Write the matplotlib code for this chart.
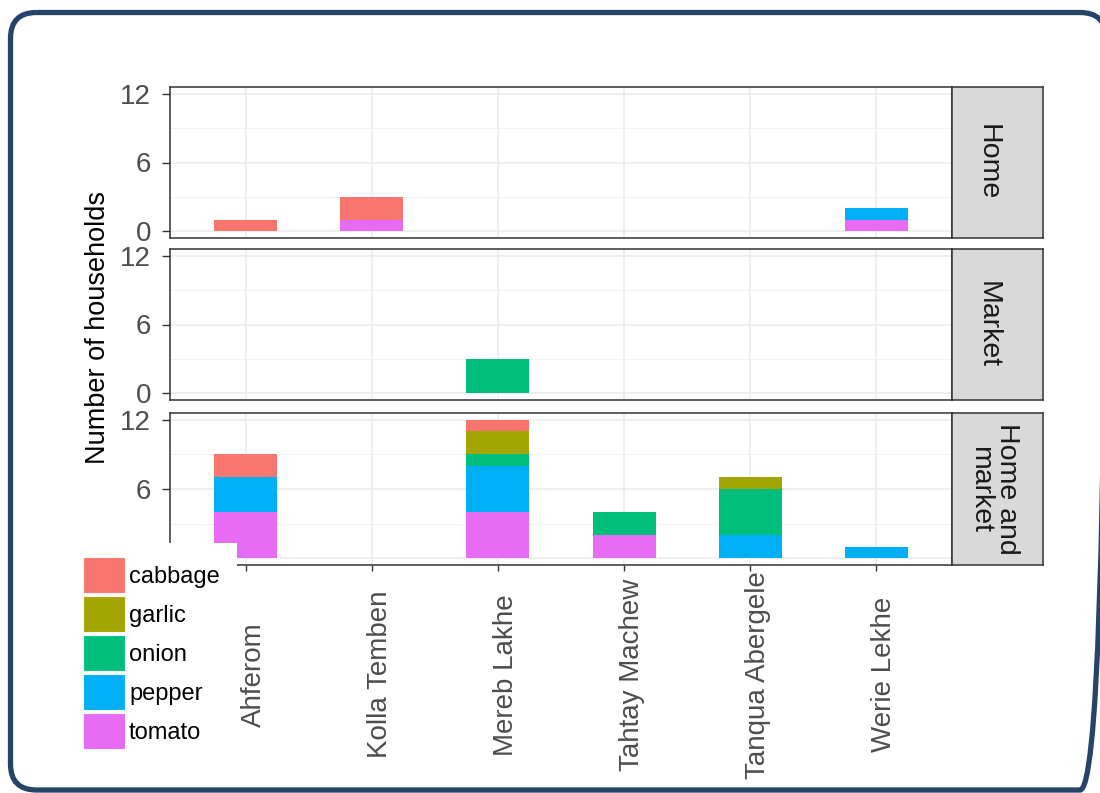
import matplotlib
matplotlib.use('Agg')
import matplotlib.pyplot as plt
from matplotlib.patches import FancyBboxPatch, Rectangle, Patch
import matplotlib.transforms as mtransforms
import numpy as np

plt.rcParams['font.family'] = ['Liberation Sans', 'DejaVu Sans']

# ---------------- data ----------------
locations = ['Ahferom', 'Kolla Temben', 'Mereb Lakhe', 'Tahtay Machew',
             'Tanqua Abergele', 'Werie Lekhe']
facets = ['Home', 'Market', 'Home and\nmarket']
crops = ['cabbage', 'garlic', 'onion', 'pepper', 'tomato']
crop_colors = ['#F8766D', '#A3A500', '#00BF7D', '#00B0F6', '#E76BF3']

home = {
    'cabbage': [1, 2, 0, 0, 0, 0],
    'garlic':  [0, 0, 0, 0, 0, 0],
    'onion':   [0, 0, 0, 0, 0, 0],
    'pepper':  [0, 0, 0, 0, 0, 1],
    'tomato':  [0, 1, 0, 0, 0, 1],
}
market = {
    'cabbage': [0, 0, 0, 0, 0, 0],
    'garlic':  [0, 0, 0, 0, 0, 0],
    'onion':   [0, 0, 3, 0, 0, 0],
    'pepper':  [0, 0, 0, 0, 0, 0],
    'tomato':  [0, 0, 0, 0, 0, 0],
}
home_and_market = {
    'cabbage': [2, 0, 1, 0, 0, 0],
    'garlic':  [0, 0, 2, 0, 1, 0],
    'onion':   [0, 0, 1, 2, 4, 0],
    'pepper':  [3, 0, 4, 0, 2, 1],
    'tomato':  [4, 0, 4, 2, 0, 0],
}
facet_data = [home, market, home_and_market]
y_ticks = [0, 6, 12]
y_minor = [3, 9]

# ---------------- layout ----------------
W, H = 1100, 793
fig = plt.figure(figsize=(W / 100, H / 100), dpi=100)
fig.patch.set_facecolor('white')

def fx(px):
    return px / W

def fy(py):
    return 1 - py / H

rows = [(87, 238), (249, 400), (413, 565)]
pl, pr = 170, 952
sl, sr = 952, 1043
strip_text_shift = [-10, -10, -4]   # px, horizontal nudge of strip labels

BORDER = '#333333'
TICKCOL = '#4D4D4D'
FS = 20

xpos = np.arange(1, len(locations) + 1)
axes = []
for i, ((top, bot), data, facet) in enumerate(zip(rows, facet_data, facets)):
    ax = fig.add_axes([fx(pl), fy(bot), (pr - pl) / W, (bot - top) / H])
    axes.append(ax)
    ax.set_xlim(0.4, len(locations) + 0.6)
    ax.set_ylim(-0.6, 12.6)
    ax.set_yticks(y_ticks)
    ax.set_yticks(y_minor, minor=True)
    ax.set_xticks(xpos)
    ax.grid(True, which='major', color='#EBEBEB', lw=1.1, zorder=0)
    ax.grid(True, which='minor', axis='y', color='#F2F2F2', lw=0.7, zorder=0)
    ax.set_axisbelow(True)
    for s in ax.spines.values():
        s.set_color(BORDER)
        s.set_linewidth(1.1)
    ax.tick_params(axis='y', which='major', length=5.5, width=1.0, color=BORDER,
                   labelsize=FS, labelcolor=TICKCOL, pad=8)
    ax.tick_params(axis='y', which='minor', length=0)
    bottom = np.zeros(len(locations))
    for crop, col in zip(crops[::-1], crop_colors[::-1]):
        vals = np.array(data[crop], dtype=float)
        ax.bar(xpos, vals, width=0.5, bottom=bottom, color=col, lw=0, zorder=2)
        bottom += vals
    if i < 2:
        ax.tick_params(axis='x', length=0, labelbottom=False)
    else:
        ax.tick_params(axis='x', length=4.5, width=1.0, color=BORDER,
                       labelsize=FS, labelcolor=TICKCOL, pad=74.5)
        ax.set_xticklabels(locations, rotation=90, va='center', ha='center')
        off = mtransforms.ScaledTranslation(8 / 100, 0, fig.dpi_scale_trans)
        for lab in ax.get_xticklabels():
            lab.set_transform(lab.get_transform() + off)
        # the "0" label of this panel is hidden behind the legend
        fig.canvas.draw()
        for lab in ax.get_yticklabels():
            if lab.get_text() == '0':
                lab.set_visible(False)

    # strip
    sax = fig.add_axes([fx(sl), fy(bot), (sr - sl) / W, (bot - top) / H])
    sax.set_facecolor('#D9D9D9')
    sax.set_xticks([])
    sax.set_yticks([])
    for s in sax.spines.values():
        s.set_color(BORDER)
        s.set_linewidth(1.1)
    sx = 0.5 + strip_text_shift[i] / (sr - sl)
    sax.text(sx, 0.5, facet, rotation=270, ha='center', va='center',
             multialignment='center', fontsize=FS + 0.5, color='#1A1A1A',
             linespacing=1.05, transform=sax.transAxes)

fig.text(fx(98), fy(327), 'Number of households', rotation=90,
         ha='center', va='center', fontsize=19.5, color='black')

# legend (white background overlapping the lower-left of the plot)
cover = Rectangle((fx(60), fy(780)), fx(237) - fx(60), (780 - 543) / H,
                  transform=fig.transFigure, facecolor='white',
                  edgecolor='none', zorder=3)
fig.add_artist(cover)
lfs = 17
lfs_px = lfs * 100 / 72
hh = (36 / lfs_px - 0.245) / 0.65
handles = [Patch(facecolor=c, edgecolor='#F8F8F8', lw=0.8) for c in crop_colors]
leg = fig.legend(handles, crops, loc='upper left',
                 bbox_to_anchor=(fx(83), fy(557)), frameon=False,
                 fontsize=lfs, handlelength=42 / lfs_px,
                 handleheight=hh, labelspacing=3 / lfs_px,
                 handletextpad=4 / lfs_px, borderpad=0, borderaxespad=0)
leg.set_zorder(5)

# outer rounded frame (overlay axes in pixel units, clipped to the figure)
fax = fig.add_axes([0, 0, 1, 1], zorder=20)
fax.set_xlim(0, W)
fax.set_ylim(H, 0)
fax.axis('off')
fax.patch.set_alpha(0)
frame = FancyBboxPatch((10.5, 12.5), 1106 - 10.5, 790 - 12.5,
                       boxstyle='round,pad=0,rounding_size=26',
                       facecolor='none', edgecolor='#26446A', lw=3.8,
                       clip_on=True)
fax.add_patch(frame)

fig.savefig('out.png', dpi=100,
            bbox_inches=mtransforms.Bbox([[0, 0], [W / 100, H / 100]]))
